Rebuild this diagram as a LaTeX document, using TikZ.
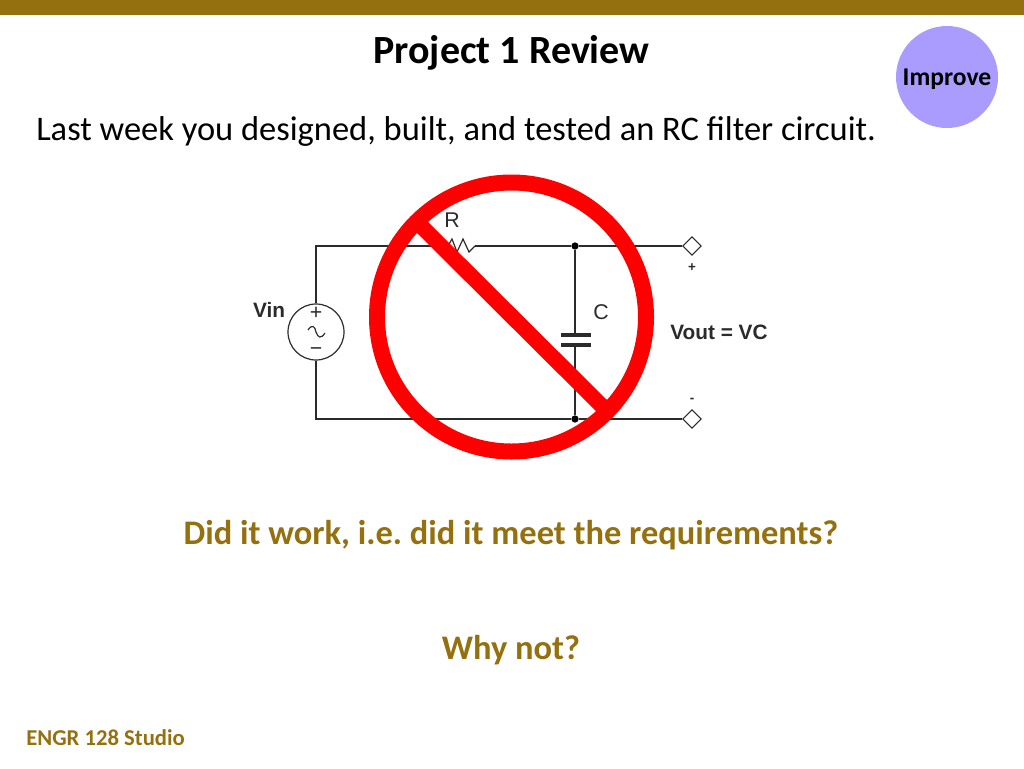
\documentclass[tikz,border=0pt]{standalone}
\usepackage{fontspec}
\setmainfont{Carlito}
\newfontfamily\circuitfont{Liberation Sans}
\usetikzlibrary{
    shapes.geometric
}
\frenchspacing
\definecolor{slidegold}{HTML}{94700F}
\definecolor{improveblue}{HTML}{AA9CFF}
\definecolor{wiregray}{HTML}{2B2B2B}
\definecolor{signred}{HTML}{FF0000}
\tikzset {
    wire/.style = {draw = wiregray, line width = 1.2pt},
    dot/.style = {circle, fill = black, inner sep = 0pt, minimum size = 5.5pt},
    terminal/.style = {diamond, draw = wiregray, fill = white, line width = .8pt, inner sep = 0pt, minimum size = 14pt},
    source/.style = {circle, draw = wiregray, line width = .9pt, inner sep = 0pt, minimum size = 42pt},
    circuit text/.style = {inner sep = 0pt, text = wiregray, font = \circuitfont\fontsize{16}{18}\selectfont},
    circuit bold/.style = {inner sep = 0pt, text = wiregray, font = \circuitfont\bfseries\fontsize{15.6}{18}\selectfont},
    heading/.style = {inner sep = 0pt, font = \bfseries\fontsize{30}{34}\selectfont},
    question/.style = {inner sep = 0pt, text = slidegold, font = \bfseries\fontsize{25.85}{30}\selectfont},
    small bold/.style = {inner sep = 0pt, font = \bfseries\fontsize{17}{20}\selectfont}
}
\begin{document}
\begin{tikzpicture}[x = .75pt, y = -.75pt]
    \useasboundingbox (0, 0) rectangle (1024, 768);
    \fill [slidegold] (0, 0) rectangle (1024, 15);
    \node (title) [heading] at (511.5, 53) {Project 1 Review};
    \node (intro) [inner sep = 0pt, font = \fontsize{25.85}{30}\selectfont, anchor = west] at (36, 131) {Last week you designed, built, and tested an RC filter circuit.};
    \node (improve) [circle, fill = improveblue, inner sep = 0pt, minimum size = 76.5pt] at (947, 77) {};
    \node (improvetext) [small bold, font = \bfseries\fontsize{19.2}{22}\selectfont] at (947, 79) {Improve};
    %
    \node (vin) [source] at (316, 332) {};
    \coordinate (tl) at (316, 246);
    \coordinate (bl) at (316, 419);
    \coordinate (ra) at (448, 246);
    \coordinate (rb) at (475, 246);
    \node (top) [dot] at (575, 246) {};
    \node (bot) [dot] at (575, 419) {};
    \node (outp) [terminal] at (692, 246) {};
    \node (outm) [terminal] at (692, 419) {};
    \coordinate (capa) at (575, 335);
    \coordinate (capb) at (575, 345);
    \draw [wire] (vin) -- (tl) -- (ra);
    \draw [wire, line width = .9pt] (ra) -- (452, 239) -- (457, 252) -- (463, 239) -- (469, 252) -- (rb);
    \draw [wire] (rb) -- (top) -- (outp);
    \draw [wire] (vin) -- (bl) -- (bot) -- (outm);
    \draw [wire] (top) -- (capa);
    \draw [wire] (capb) -- (bot);
    \draw [wire, line width = 2.4pt] (561, 335) -- (591, 335);
    \draw [wire, line width = 2.4pt] (561, 345) -- (591, 345);
    \draw [wire, line width = .9pt] (308, 330) .. controls (312, 324) and (315, 326) .. (316, 332) .. controls (318, 338) and (321, 339) .. (325, 333);
    \node (vinplus) [circuit text] at (316, 313) {+};
    \node (vinminus) [circuit text] at (316, 352) {\textminus};
    \node (vinlabel) [circuit bold] at (269, 310) {Vin};
    \node (rlabel) [circuit text] at (452, 220) {R};
    \node (clabel) [circuit text] at (601, 312) {C};
    \node (vout) [circuit bold] at (719, 332) {Vout = VC};
    \node (outplus) [circuit bold, font = \circuitfont\bfseries\fontsize{10}{12}\selectfont] at (692, 268) {+};
    \node (outminus) [circuit bold, font = \circuitfont\bfseries\fontsize{10}{12}\selectfont] at (692, 400) {-};
    %
    \node (ring) [circle, draw = signred, line width = 12pt, inner sep = 0pt, minimum size = 201.75pt] at (511.5, 317) {};
    \draw [signred, line width = 11.7pt] (418, 223) -- (606, 410);
    %
    \node (work) [question] at (511, 535) {Did it work, i.e. did it meet the requirements?};
    \node (why) [question] at (511, 650) {Why not?};
    \node (studio) [small bold, text = slidegold, anchor = west] at (26, 738) {ENGR 128 Studio};
\end{tikzpicture}
\end{document}
